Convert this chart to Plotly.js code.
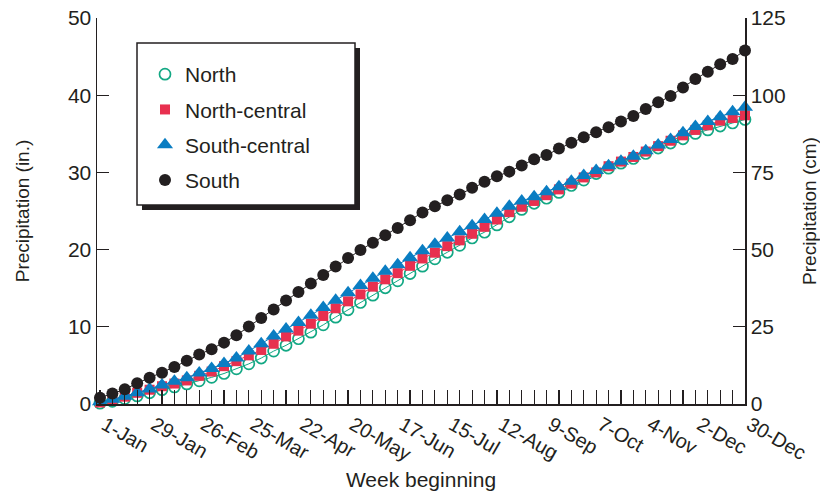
<!DOCTYPE html>
<html><head><meta charset="utf-8">
<script src="https://cdn.plot.ly/plotly-3.0.1.min.js"></script>
<style>html,body{margin:0;padding:0;background:#fff}#chart{width:820px;height:491px}</style>
</head><body><div id="chart"></div>
<script>
// week index 0..52 (weekly points, 1-Jan through 30-Dec)
const weeks = [0,1,2,3,4,5,6,7,8,9,10,11,12,13,14,15,16,17,18,19,20,21,22,23,24,25,26,
  27,28,29,30,31,32,33,34,35,36,37,38,39,40,41,42,43,44,45,46,47,48,49,50,51,52];
const labelWeeks = [0,4,8,12,16,20,24,28,32,36,40,44,48,52];
const labelText = ['1-Jan','29-Jan','26-Feb','25-Mar','22-Apr','20-May','17-Jun','15-Jul',
  '12-Aug','9-Sep','7-Oct','4-Nov','2-Dec','30-Dec'];

const north = [0.1,0.35,0.7,1.05,1.45,1.85,2.2,2.6,3.0,3.45,3.95,4.55,5.2,5.95,6.85,7.6,8.45,
  9.3,10.25,11.25,12.2,13.15,14.1,15.05,15.95,16.9,17.85,18.8,19.65,20.55,21.5,22.25,23.2,
  24.25,25.2,26.0,26.65,27.4,28.3,29.0,29.85,30.55,31.2,31.8,32.45,33.15,33.8,34.35,35.05,
  35.5,36.0,36.4,36.85];
const northCentral = [0.2,0.55,0.95,1.45,1.85,2.3,2.65,3.05,3.65,4.2,4.9,5.55,6.3,7.0,7.8,
  8.75,9.5,10.4,11.4,12.4,13.3,14.2,15.2,16.15,16.95,17.9,18.85,19.6,20.45,21.2,22.05,22.95,
  23.9,24.85,25.55,26.3,27.05,27.8,28.55,29.35,30.0,30.8,31.4,32.0,32.7,33.4,34.1,34.8,35.5,
  36.1,36.7,37.05,37.4];
const southCentral = [0.3,0.6,1.0,1.45,1.95,2.45,2.95,3.4,4.0,4.6,5.25,5.95,6.85,7.8,8.8,9.7,
  10.55,11.5,12.5,13.45,14.4,15.35,16.3,17.2,18.05,18.95,19.85,20.7,21.5,22.3,23.1,23.9,24.7,
  25.6,26.3,26.85,27.5,28.15,28.85,29.6,30.25,30.85,31.45,32.1,32.8,33.55,34.25,35.15,35.95,
  36.6,37.2,37.85,38.45];
const south = [0.8,1.35,1.9,2.7,3.4,4.05,4.8,5.6,6.4,7.1,7.95,8.9,10.05,11.15,12.25,13.4,14.5,
  15.6,16.7,17.8,18.9,19.95,20.9,21.85,22.8,23.8,24.8,25.6,26.4,27.15,28.0,28.8,29.5,30.1,30.9,
  31.7,32.25,33.1,33.85,34.55,35.2,35.85,36.6,37.3,38.2,39.1,39.9,41.0,42.1,43.05,44.0,44.7,45.8];

const inTicks = [0,10,20,30,40,50];
const cmTicks = [0,25,50,75,100,125];

const ink = '#231f20';
const FONT = 'Liberation Sans, Arial, Helvetica, sans-serif';

const tickText = weeks.map(w => { const i = labelWeeks.indexOf(w); return i >= 0 ? labelText[i] : ''; });

const seriesDefs = [
  {name: 'North', y: north, color: '#13a884',
   marker: {symbol: 'circle-open', size: 11, color: '#13a884', line: {width: 1.7, color: '#13a884'}}},
  {name: 'North-central', y: northCentral, color: '#e8304f',
   marker: {symbol: 'square', size: 10, color: '#e8304f'}},
  {name: 'South-central', y: southCentral, color: '#0a7dc2',
   marker: {symbol: 'triangle-up', size: 14, color: '#0a7dc2'}},
  {name: 'South', y: south, color: ink,
   marker: {symbol: 'circle', size: 12, color: ink}}
];

const traces = [];
seriesDefs.forEach((s, i) => {
  traces.push({x: weeks, y: s.y, mode: 'lines', showlegend: false, hoverinfo: 'skip',
    line: {color: s.color, width: 1}, cliponaxis: false});
  traces.push({x: weeks, y: s.y, mode: 'markers', name: s.name, legendgroup: 'g' + i,
    marker: s.marker, cliponaxis: false});
});
traces.push({x: [], y: [], yaxis: 'y2', showlegend: false, hoverinfo: 'skip', mode: 'markers'});

// plot area in px: x 97..745, y 18..404
const px = v => (v - 97) / 648;
const py = v => (404 - v) / 386;

const layout = {
  width: 820, height: 491,
  margin: {l: 97, r: 75, t: 18, b: 87},
  paper_bgcolor: '#fff', plot_bgcolor: '#fff',
  font: {family: FONT, size: 20, color: ink},
  showlegend: true,
  legend: {x: px(145), y: py(54), xanchor: 'left', yanchor: 'top',
    bgcolor: 'rgba(0,0,0,0)', borderwidth: 0, tracegroupgap: 5,
    traceorder: 'grouped', font: {family: FONT, size: 21, color: ink}},
  xaxis: {range: [-0.24, 52], tickmode: 'array', tickvals: weeks, ticktext: tickText,
    ticks: 'inside', ticklen: 14, tickwidth: 1.2, tickcolor: ink, tickangle: 30,
    ticklabelshift: 5,
    tickfont: {family: FONT, size: 20, color: ink},
    showline: true, linecolor: ink, linewidth: 1.5, showgrid: false, zeroline: false,
    title: {text: 'Week beginning', font: {family: FONT, size: 21, color: ink}, standoff: 10}},
  yaxis: {range: [0, 50], tickmode: 'array', tickvals: inTicks, ticks: 'inside', ticklen: 12,
    tickwidth: 1.2, tickcolor: ink, showline: true, linecolor: ink, linewidth: 1.5,
    showgrid: false, zeroline: false, tickfont: {family: FONT, size: 21, color: ink},
    title: {text: 'Precipitation (in.)', font: {family: FONT, size: 19, color: ink}, standoff: 33}},
  yaxis2: {range: [0, 125], overlaying: 'y', side: 'right', tickmode: 'array', tickvals: cmTicks,
    ticks: 'inside', ticklen: 12, tickwidth: 1.2, tickcolor: ink, showline: true,
    linecolor: ink, linewidth: 1.5, showgrid: false, zeroline: false,
    tickfont: {family: FONT, size: 21, color: ink},
    title: {text: 'Precipitation (cm)', font: {family: FONT, size: 19, color: ink}, standoff: 18}},
  shapes: [
    {type: 'rect', xref: 'paper', yref: 'paper', x0: px(142), x1: px(360), y0: py(210), y1: py(48),
     fillcolor: ink, line: {width: 0}},
    {type: 'rect', xref: 'paper', yref: 'paper', x0: px(137), x1: px(355), y0: py(205), y1: py(43),
     fillcolor: '#fff', line: {color: ink, width: 1.5}}
  ]
};

Plotly.newPlot('chart', traces, layout, {displayModeBar: false, staticPlot: true});
</script>
</body></html>
